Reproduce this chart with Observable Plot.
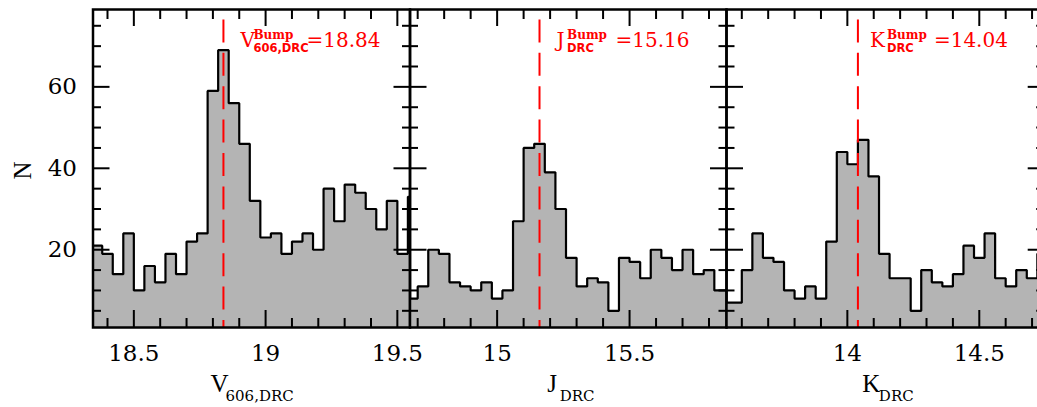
<!DOCTYPE html>
<html>
<head>
<meta charset="utf-8">
<script src="https://cdn.jsdelivr.net/npm/d3@7"></script>
<script src="https://cdn.jsdelivr.net/npm/@observablehq/plot@0.6"></script>
<style>
html, body { margin: 0; padding: 0; background: #fff; }
#chart { position: relative; width: 1037px; height: 407px; overflow: hidden; background: #fff; }
#chart svg { position: absolute; left: 0; top: 0; }
</style>
</head>
<body>
<div id="chart"></div>
<script>
// ---- data ----
const bands = ["V", "J", "K"];
const bandSubscripts = ["606,DRC", "DRC", "DRC"];
const bumpMags = [18.84, 15.16, 14.04];
const binWidth = 0.04;

const vBinStart = 18.34;
const vCounts = [21, 19, 14, 24, 10, 16, 12, 19, 14, 22, 24, 59, 69, 56, 46, 32, 23, 24, 19, 22, 24, 20, 35, 27, 36, 34, 30, 25, 32, 19, 33];

const jBinStart = 14.66;
const jCounts = [8, 11, 20, 19, 12, 11, 10, 12, 8, 10, 27, 45, 46, 39, 30, 18, 11, 13, 12, 5, 18, 17, 13, 20, 18, 15, 20, 14, 15, 10, 10];

const kBinStart = 13.52;
const kCounts = [7, 7, 15, 24, 18, 17, 10, 8, 11, 8, 22, 44, 41, 47, 38, 19, 13, 13, 5, 15, 12, 11, 14, 21, 18, 24, 13, 11, 15, 13, 19];

const vMajorTicks = [18.5, 19, 19.5];
const jMajorTicks = [15, 15.5];
const kMajorTicks = [14, 14.5];
const yMajorTicks = [20, 40, 60];
const yMinorTicks = [5, 10, 15, 25, 30, 35, 45, 50, 55, 65, 70, 75];

const xDomains = [[18.345, 19.548], [14.671, 15.866], [13.542, 14.746]];
const yDomain = [0.9, 79];

// ---- helpers ----
function histSteps(start, counts) {
  const pts = counts.map((n, i) => ({x: +(start + i * binWidth).toFixed(3), n}));
  pts.push({x: +(start + counts.length * binWidth).toFixed(3), n: counts[counts.length - 1]});
  return pts;
}
function minorTicks(domain, major) {
  return d3.range(Math.ceil(domain[0] * 10), Math.floor(domain[1] * 10) + 1)
    .map(k => +(k / 10).toFixed(1))
    .filter(v => !major.some(m => Math.abs(m - v) < 1e-9));
}

const panels = [
  {start: vBinStart, counts: vCounts, major: vMajorTicks, left: 92.5, right: 409.5,
   ann: {letter: 17, sup: 30, val: 83}, title: {letter: -41, sub: -26}},
  {start: jBinStart, counts: jCounts, major: jMajorTicks, left: 409.5, right: 726,
   ann: {letter: 17, sup: 27.5, val: 76}, title: {letter: -21, sub: -8.5}},
  {start: kBinStart, counts: kCounts, major: kMajorTicks, left: 726, right: 1043.7,
   ann: {letter: 12, sup: 29, val: 76}, title: {letter: -23, sub: -6.5}}
];

const W = 1044;
const chart = document.getElementById("chart");
const tickStyle = {strokeWidth: 2, stroke: "#000", fill: "none", label: null};

panels.forEach((p, i) => {
  const steps = histSteps(p.start, p.counts);
  const domain = xDomains[i];
  const minor = minorTicks(domain, p.major);
  const bump = bumpMags[i];
  const red = "#ff0000";
  const marks = [
    Plot.areaY(steps, {x: "x", y: "n", curve: "step-after", fill: "#b4b4b4", clip: true}),
    Plot.lineY(steps, {x: "x", y: "n", curve: "step-after", stroke: "#000", strokeWidth: 2.2, strokeLinejoin: "miter", clip: true}),
    Plot.ruleX([bump], {stroke: red, strokeWidth: 2, strokeDasharray: "23 10.4", strokeDashoffset: 23}),
    Plot.frame({stroke: "#000", strokeWidth: 2.5}),
    // inward ticks on all four sides
    Plot.axisX(minor, {anchor: "bottom", tickSize: -9, ...tickStyle}),
    Plot.axisX(minor, {anchor: "top", tickSize: -9, ...tickStyle}),
    Plot.axisX(p.major, {anchor: "bottom", tickSize: -17, ...tickStyle}),
    Plot.axisX(p.major, {anchor: "top", tickSize: -16, ...tickStyle}),
    Plot.axisY(yMinorTicks, {anchor: "left", tickSize: -8.5, ...tickStyle}),
    Plot.axisY(yMinorTicks, {anchor: "right", tickSize: -8.5, ...tickStyle}),
    Plot.axisY(yMajorTicks, {anchor: "left", tickSize: -17, ...tickStyle}),
    Plot.axisY(yMajorTicks, {anchor: "right", tickSize: -17, ...tickStyle}),
    // tick labels
    Plot.axisX(p.major, {anchor: "bottom", tickSize: 0, tickPadding: 17, fontSize: 23, fontFamily: "DejaVu Serif",
      fill: "#000", tickFormat: d => String(d), label: null}),
    // axis title with subscript
    Plot.text([bands[i]], {frameAnchor: "bottom", text: d => d, textAnchor: "start", lineAnchor: "bottom",
      dx: p.title.letter, dy: 64.5, fontFamily: "Liberation Serif", fontSize: 25, fill: "#000"}),
    Plot.text([bandSubscripts[i]], {frameAnchor: "bottom", text: d => d, textAnchor: "start", lineAnchor: "bottom",
      dx: p.title.sub, dy: 73, fontFamily: "DejaVu Serif", fontSize: 15, fill: "#000"}),
    // bump annotation
    Plot.text([bump], {x: d => d, text: () => bands[i], frameAnchor: "top", textAnchor: "start", lineAnchor: "bottom",
      dx: p.ann.letter, dy: 37, fontFamily: "DejaVu Serif", fontSize: 20, fill: red}),
    Plot.text([bump], {x: d => d, text: () => "Bump", frameAnchor: "top", textAnchor: "start", lineAnchor: "bottom",
      dx: p.ann.sup, dy: 29.5, fontFamily: "DejaVu Serif", fontWeight: "bold", fontSize: 12, fill: red}),
    Plot.text([bump], {x: d => d, text: () => bandSubscripts[i], frameAnchor: "top", textAnchor: "start", lineAnchor: "bottom",
      dx: p.ann.sup, dy: 42.5, fontFamily: "DejaVu Sans", fontWeight: "bold", fontSize: 11.5, fill: red}),
    Plot.text([bump], {x: d => d, text: d => "=" + d.toFixed(2), frameAnchor: "top", textAnchor: "start", lineAnchor: "bottom",
      dx: p.ann.val, dy: 37, fontFamily: "DejaVu Serif", fontSize: 20, fill: red})
  ];
  if (i === 0) {
    marks.push(
      Plot.axisY(yMajorTicks, {anchor: "left", tickSize: 0, tickPadding: 16, fontSize: 23, fontFamily: "DejaVu Serif",
        fill: "#000", label: null}),
      Plot.text(["N"], {frameAnchor: "left", text: d => d, rotate: -90, dx: -70.5, dy: 2, textAnchor: "middle",
        lineAnchor: "middle", fontFamily: "Liberation Serif", fontSize: 25, fill: "#000"})
    );
  }
  const svg = Plot.plot({
    width: W,
    height: 407,
    marginLeft: p.left,
    marginRight: W - p.right,
    marginTop: 9,
    marginBottom: 80,
    x: {domain, label: null},
    y: {domain: yDomain, label: null},
    style: {background: "transparent", maxWidth: "none", overflow: "visible"},
    marks
  });
  chart.appendChild(svg);
});
</script>
</body>
</html>
